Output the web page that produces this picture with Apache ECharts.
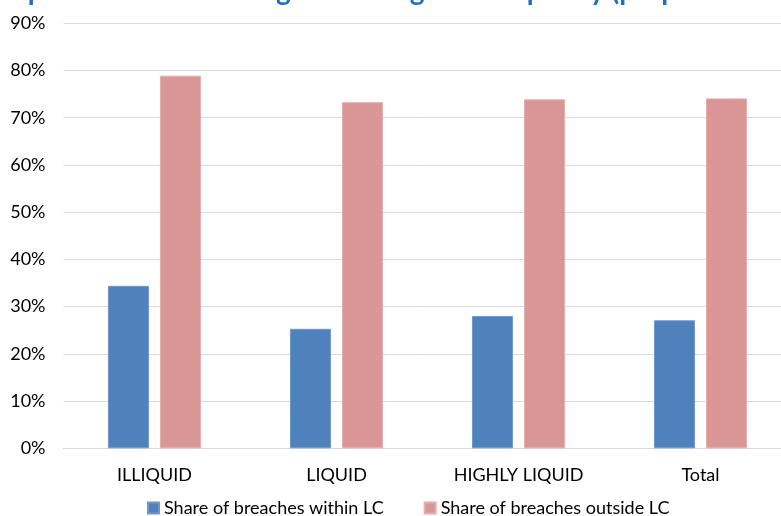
<!DOCTYPE html>
<html>
<head>
<meta charset="utf-8">
<script src="https://cdn.jsdelivr.net/npm/echarts@6/dist/echarts.min.js"></script>
<style>html,body{margin:0;padding:0;background:#fff;}#c{width:781px;height:516px;}</style>
</head>
<body>
<div id="c"></div>
<script>
const categories = ['ILLIQUID', 'LIQUID', 'HIGHLY LIQUID', 'Total'];
const withinLC = [34.4, 25.3, 28.0, 27.1];
const outsideLC = [78.9, 73.3, 73.9, 74.1];
const seriesNames = ['Share of breaches within LC', 'Share of breaches outside LC'];
const yTicks = { min: 0, max: 90, interval: 10 };
const titleText = 'Figure: Breaches of price limits according to the degree of liquidity (proportion of breaches)';

const FONT = 'Lato, "Open Sans", sans-serif';
const chart = echarts.init(document.getElementById('c'));
chart.setOption({
  animation: false,
  title: {
    text: titleText,
    left: -218,
    top: -23,
    padding: 0,
    textStyle: { color: '#1F6FBF', fontWeight: 'bold', fontSize: 28, fontFamily: FONT }
  },
  grid: { left: 63.5, right: -10.5, top: 23.3, bottom: 67.7, containLabel: false, outerBoundsMode: 'none' },
  legend: {
    left: 142,
    top: 494,
    itemWidth: 11,
    itemHeight: 11,
    itemGap: 40,
    icon: 'rect',
    textStyle: { color: '#000', fontSize: 18, fontFamily: FONT },
    data: seriesNames
  },
  xAxis: {
    type: 'category',
    data: categories,
    axisTick: { show: false },
    axisLine: { lineStyle: { color: '#d9d9d9', width: 1 } },
    axisLabel: { color: '#000', fontSize: 18, fontFamily: FONT, margin: 18 }
  },
  yAxis: {
    type: 'value',
    min: yTicks.min,
    max: yTicks.max,
    interval: yTicks.interval,
    axisLine: { show: false },
    axisTick: { show: false },
    splitLine: { lineStyle: { color: '#d9d9d9', width: 1 } },
    axisLabel: { color: '#000', fontSize: 18, fontFamily: FONT, margin: 18, formatter: '{value}%' }
  },
  series: [
    {
      name: seriesNames[0], type: 'bar', data: withinLC, barWidth: 41, barGap: '27%',
      itemStyle: { color: '#4F81BD', borderColor: '#6E97CA', borderWidth: 1 }
    },
    {
      name: seriesNames[1], type: 'bar', data: outsideLC, barWidth: 41, barGap: '27%',
      itemStyle: { color: '#D99694', borderColor: '#E4AFAD', borderWidth: 1 }
    }
  ]
});
</script>
</body>
</html>
